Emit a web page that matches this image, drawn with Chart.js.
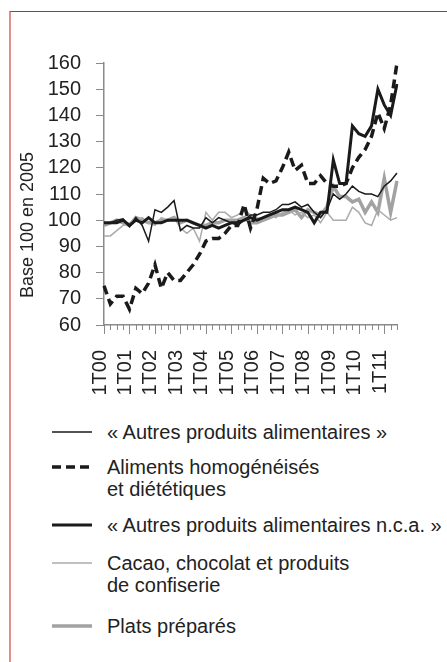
<!DOCTYPE html>
<html>
<head>
<meta charset="utf-8">
<script src="https://cdn.jsdelivr.net/npm/chart.js@4"></script>
<style>
  body { margin: 0; background: #fff; font-family: "Liberation Sans", Arial, sans-serif; color: #222; }
  #frame { position: absolute; left: 9px; top: 11px; width: 438px; height: 651px;
           border-top: 1px solid #b5332b; border-left: 2px solid #e0908a; }
  #chart { position: absolute; left: 0; top: 0; }
  .row { position: absolute; left: 0; font-size: 20px; line-height: 22px; }
  .row svg { position: absolute; left: 52px; top: 5px; }
  .row .txt { position: absolute; left: 107px; top: 0; white-space: nowrap; }
</style>
</head>
<body>
<div id="frame"></div>
<canvas id="chart" width="447" height="400"></canvas>
<div id="legend"></div>
<script>
  // quarters 1T00 .. 3T11
  const quarters = [];
  for (let y = 0; y <= 11; y++) {
    for (let q = 1; q <= 4; q++) {
      if (y === 11 && q > 3) break;
      quarters.push(q + "T" + String(y).padStart(2, "0"));
    }
  }

  const autresProduits = [99, 99, 100, 100.5, 97.5, 101, 98, 92, 104, 103, 105, 107.5,
    96, 98, 97, 97, 101, 99, 101, 100, 99, 98, 100, 102,
    102, 103, 103, 104, 106, 106, 107, 105, 106, 103, 101, 104,
    110, 108, 110, 113, 111, 110, 110, 109, 113, 115, 118];
  const alimentsHomog = [75, 68, 71, 71, 66, 74, 72, 76, 83, 74, 80, 77,
    77, 80, 83, 87, 92, 93, 93, 95, 98, 98, 106, 97,
    104, 116, 114, 115, 120, 126, 119, 121, 114, 114, 117, 114,
    113, 113, 114, 120, 124, 127, 132, 141, 135, 144, 160];
  const autresNca = [99, 99, 99, 100, 98, 100, 99, 101, 99, 99, 100, 100,
    100, 100, 99, 98, 97, 98, 97, 98, 99, 99, 100, 101,
    100, 101, 102, 103, 104, 104, 105, 104, 103, 99, 103, 103,
    123, 114, 114, 136, 133, 132, 136, 150, 144, 140, 152];
  const cacao = [94, 94, 96, 98, 99, 100, 101, 99, 98, 101, 100, 101,
    97, 95, 97, 92, 103, 100, 103, 103, 101, 102, 104, 102,
    101, 100, 102, 101, 103, 104, 102, 103, 101, 102, 99, 103,
    100, 100, 100, 105, 103, 99, 98, 104, 102, 100, 101];
  const platsPrepares = [98, 99, 100, 99, 98, 101, 100, 99, 99, 100, 100, 101,
    99, 100, 99, 98, 98, 99, 99, 100, 100, 100, 101, 99,
    99, 100, 101, 102, 102, 103, 104, 101, 104, 103, 102, 105,
    113, 109, 109, 107, 108, 103, 107, 103, 116, 103, 115];

  const yTicks = { min: 60, max: 160, step: 10 };

  const series = [
    { label: "« Autres produits alimentaires »", data: autresProduits, color: "#1a1a1a", width: 1.5, dash: [] },
    { label: "Aliments homogénéisés<br>et diététiques", data: alimentsHomog, color: "#1a1a1a", width: 3.5, dash: [9, 5] },
    { label: "« Autres produits alimentaires n.c.a. »", data: autresNca, color: "#1a1a1a", width: 3, dash: [] },
    { label: "Cacao, chocolat et produits<br>de confiserie", data: cacao, color: "#ababab", width: 1.5, dash: [] },
    { label: "Plats préparés", data: platsPrepares, color: "#a2a2a2", width: 3.5, dash: [] }
  ];

  // draw order: grey lines under black ones
  const drawOrder = [4, 3, 0, 2, 1];

  const quarterTicks = {
    id: "quarterTicks",
    afterDraw(chart) {
      const x = chart.scales.x;
      const c = chart.ctx;
      const bottom = chart.chartArea.bottom;
      c.save();
      c.strokeStyle = "#8a8a8a";
      c.lineWidth = 1;
      quarters.forEach((q, i) => {
        const px = Math.round(x.getPixelForTick(i)) + 0.5;
        const len = q.startsWith("1T") ? 9 : 5;
        c.beginPath();
        c.moveTo(px, bottom);
        c.lineTo(px, bottom + len);
        c.stroke();
      });
      c.restore();
    }
  };

  const yTitle = {
    id: "yTitle",
    afterDraw(chart) {
      const c = chart.ctx;
      c.save();
      c.translate(28, 225);
      c.rotate(-Math.PI / 2);
      c.font = "18px 'Liberation Sans', Arial, sans-serif";
      c.fillStyle = "#222";
      c.textAlign = "center";
      c.textBaseline = "middle";
      c.fillText("Base 100 en 2005", 0, 0);
      c.restore();
    }
  };

  const ctx = document.getElementById("chart").getContext("2d");
  new Chart(ctx, {
    type: "line",
    data: {
      labels: quarters,
      datasets: drawOrder.map(k => ({
        label: series[k].label,
        data: series[k].data,
        borderColor: series[k].color,
        borderWidth: series[k].width,
        borderDash: series[k].dash,
        pointRadius: 0,
        tension: 0,
        fill: false,
        order: drawOrder.length - drawOrder.indexOf(k)
      }))
    },
    options: {
      responsive: false,
      animation: false,
      devicePixelRatio: 1,
      layout: { padding: { top: 63, right: 50, left: 0, bottom: 0 } },
      plugins: { legend: { display: false }, tooltip: { enabled: false } },
      scales: {
        x: {
          offset: false,
          grid: { drawOnChartArea: false, drawTicks: false },
          border: { color: "#8a8a8a", width: 1.5 },
          ticks: {
            autoSkip: false,
            maxRotation: 90,
            minRotation: 90,
            padding: 25,
            labelOffset: -4,
            color: "#222",
            font: { family: "'Liberation Sans', Arial, sans-serif", size: 20 },
            callback: function(value) {
              const l = quarters[value];
              return l.startsWith("1T") ? l : "";
            }
          },
          afterFit: s => { s.height = 75; }
        },
        y: {
          min: yTicks.min,
          max: yTicks.max,
          grid: { drawOnChartArea: false, tickLength: 8, color: "#8a8a8a" },
          border: { color: "#8a8a8a", width: 1.5 },
          ticks: {
            stepSize: yTicks.step,
            autoSkip: false,
            padding: 15,
            color: "#222",
            font: { family: "'Liberation Sans', Arial, sans-serif", size: 20 }
          },
          afterFit: s => { s.width = 104; }
        }
      }
    },
    plugins: [quarterTicks, yTitle]
  });

  // legend below the chart
  const legendRows = [432, 467, 525, 563, 626];
  const legend = document.getElementById("legend");
  series.forEach((s, k) => {
    const row = document.createElement("div");
    row.className = "row";
    row.style.top = (legendRows[k] - 11) + "px";
    const dash = s.dash.length ? ' stroke-dasharray="' + s.dash.join(",") + '"' : "";
    row.innerHTML =
      '<svg width="40" height="12"><line x1="0" y1="6" x2="40" y2="6" stroke="' + s.color +
      '" stroke-width="' + s.width + '"' + dash + '/></svg>' +
      '<div class="txt">' + s.label + '</div>';
    legend.appendChild(row);
  });
</script>
</body>
</html>
